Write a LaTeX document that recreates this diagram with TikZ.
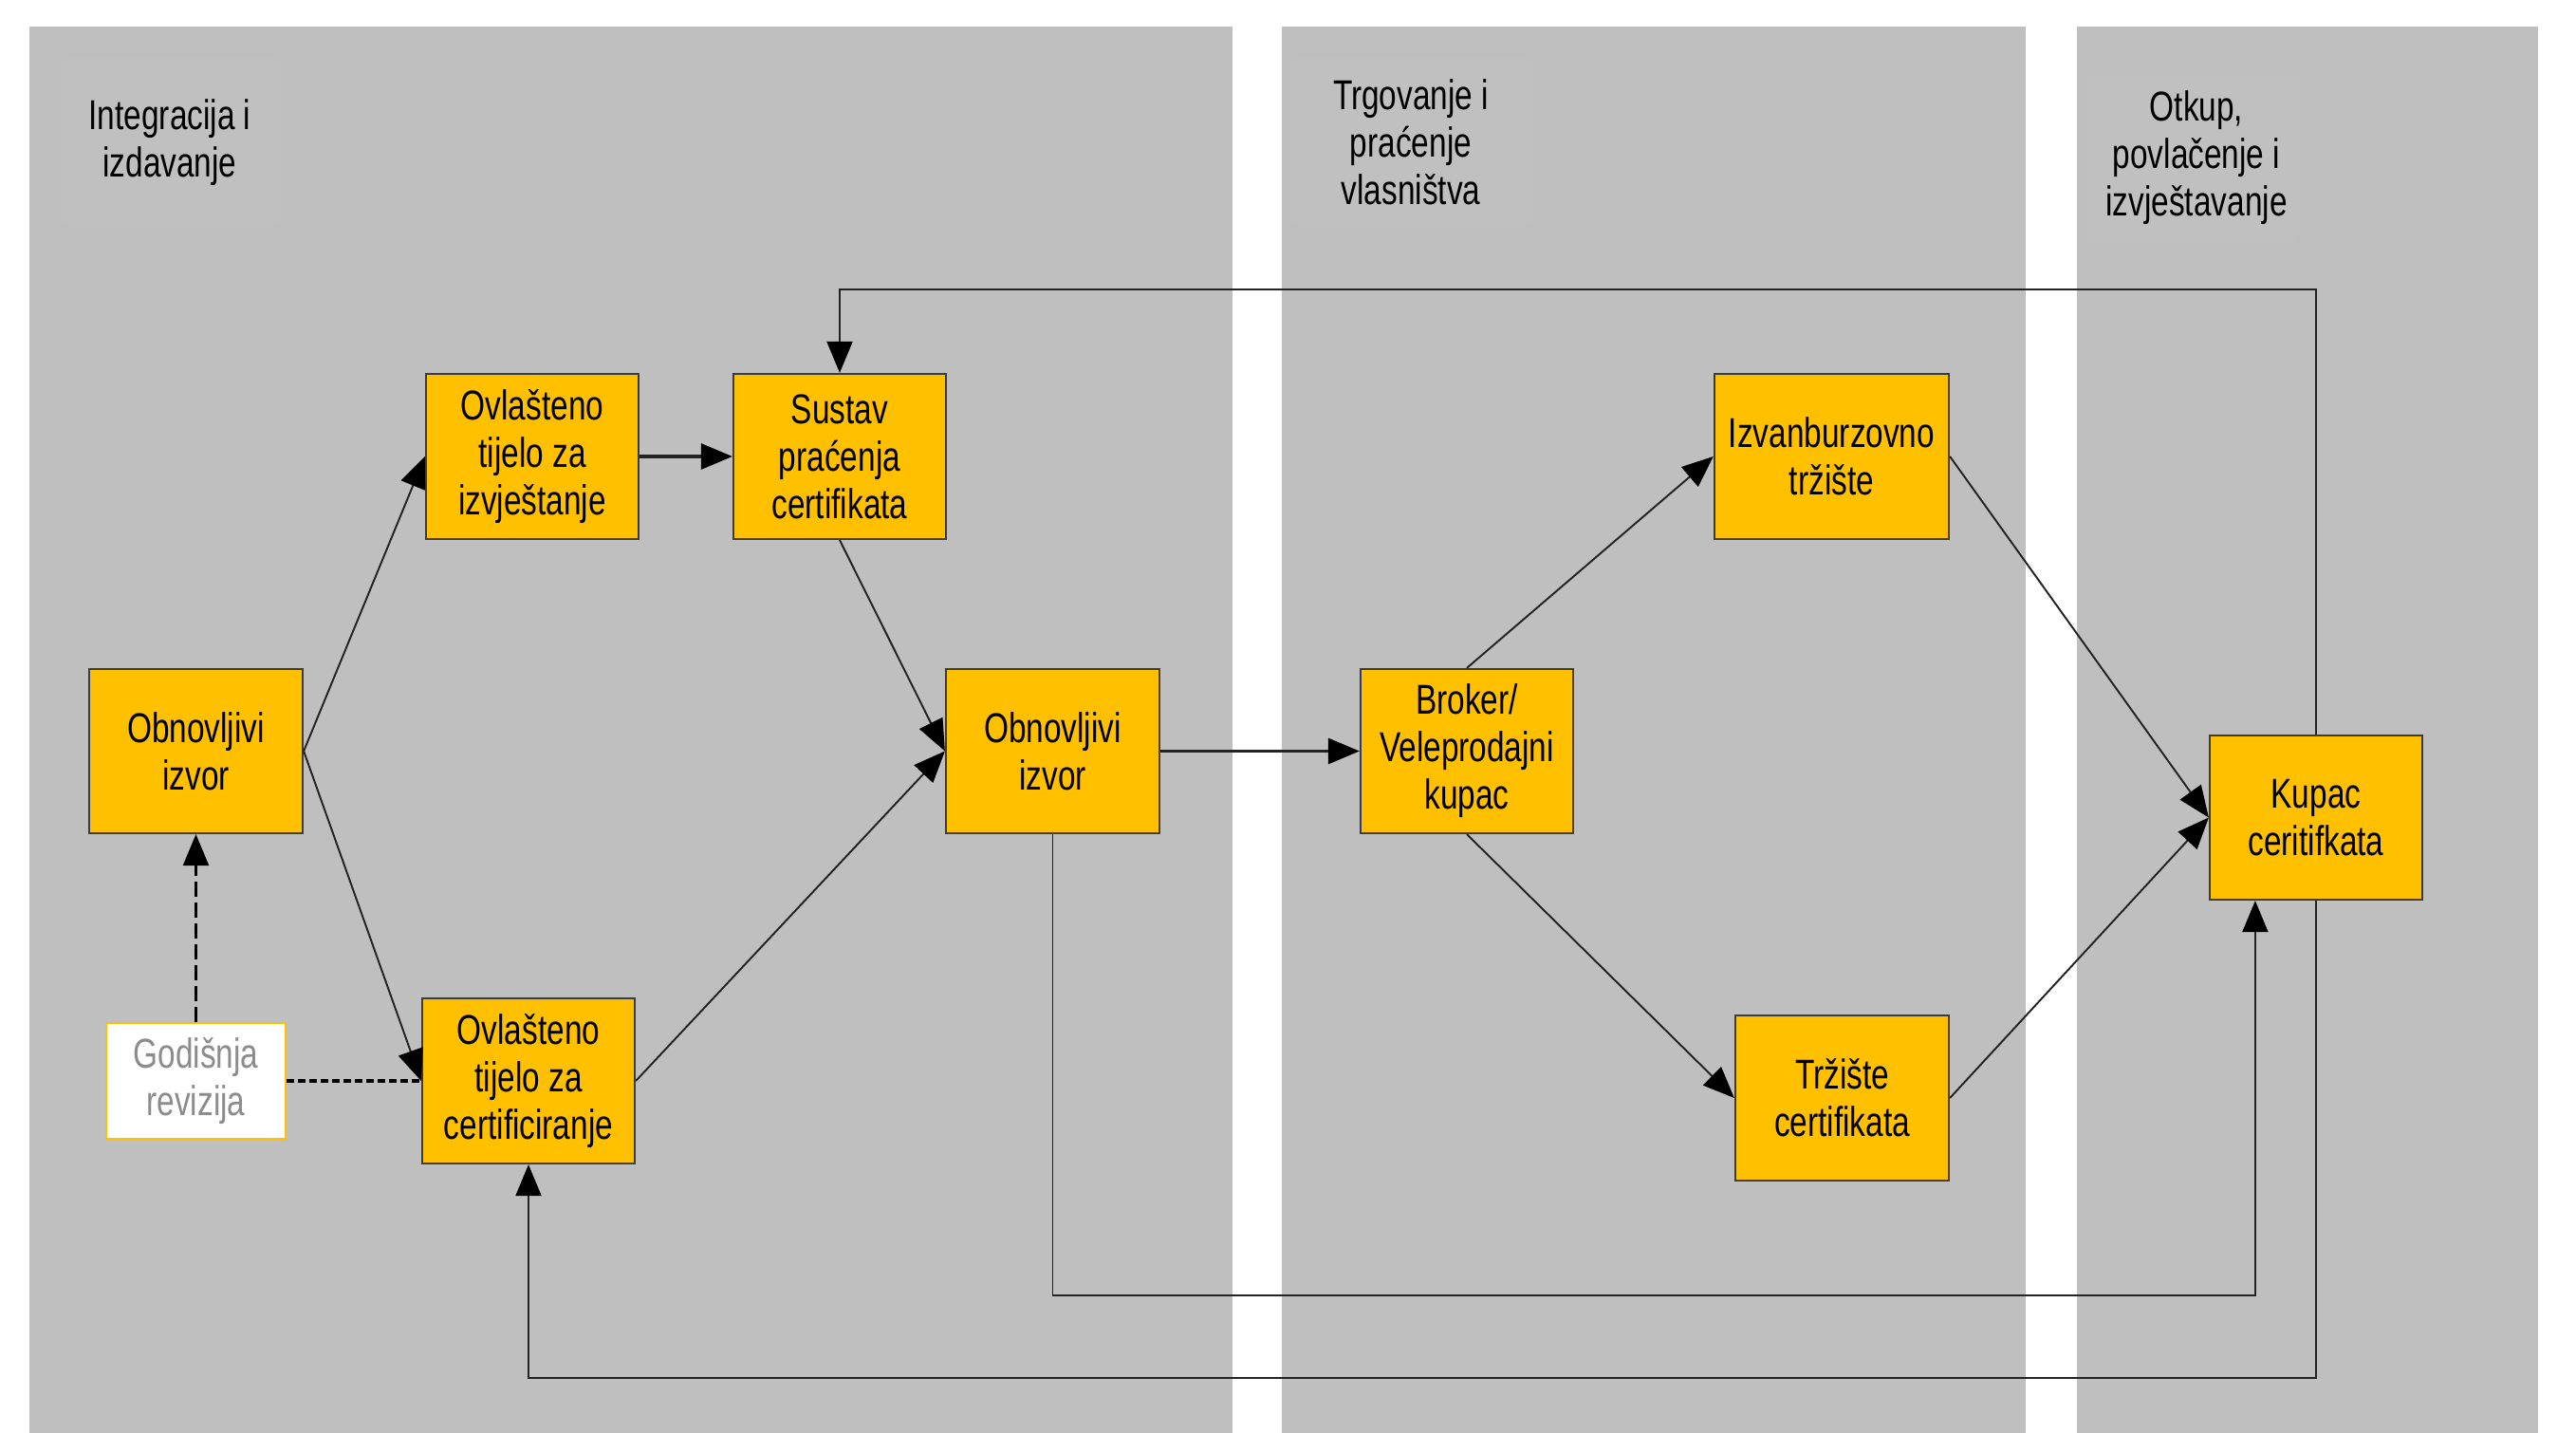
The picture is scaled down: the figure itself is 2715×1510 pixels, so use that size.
\documentclass[tikz,border=0pt]{standalone}
\usepackage{fontspec}
\setmainfont{Liberation Sans}[FakeStretch=0.76]
\usetikzlibrary{arrows.meta,calc}
\definecolor{panel}{RGB}{191,191,191}
\definecolor{lblbg}{RGB}{192,192,192}
\definecolor{boxfill}{RGB}{255,192,0}
\definecolor{boxline}{RGB}{60,60,60}
\definecolor{linec}{RGB}{35,35,35}
\definecolor{grtext}{RGB}{140,140,140}
\tikzset{
  txt/.style={font=\fontsize{12.5}{14.2}\selectfont, align=center},
  ybox/.style={txt, draw=boxline, line width=0.6pt, fill=boxfill, minimum width=2.24cm, minimum height=1.74cm, inner sep=0pt},
  wbox/.style={txt, draw=boxfill, line width=0.6pt, fill=white, text=grtext, minimum width=1.89cm, minimum height=1.22cm, inner sep=0pt},
  hdr/.style={txt, text=black},
  conn/.style={draw=linec, line width=0.55pt},
  tip/.style={-{Triangle[length=0.33cm,width=0.27cm,color=black]}},
  arr/.style={conn, tip},
  dashv/.style={draw=black, line width=0.65pt, dash pattern=on 0.16cm off 0.06cm},
  dashh/.style={draw=black, line width=1pt, dash pattern=on 0.075cm off 0.045cm},
}
\begin{document}
\begin{tikzpicture}[x=0.01cm, y=-0.01cm]
\useasboundingbox (0,0) rectangle (2715,1510);
\fill[white] (0,0) rectangle (2715,1510);
% panels
\fill[panel] (31,28) rectangle (1299,1510);
\fill[panel] (1351,28) rectangle (2135,1510);
\fill[panel] (2189,28) rectangle (2675,1510);
% header backgrounds
\fill[lblbg] (67,62) rectangle (293,235);
\fill[lblbg] (1363,62) rectangle (1614,235);
\fill[lblbg] (2202,80) rectangle (2419,254);
% headers
\node[hdr] (h1) at (179,150) {Integracija i\\izdavanje};
\node[hdr] (h2) at (1487,150) {Trgovanje i\\praćenje\\vlasništva};
\node[hdr] (h3) at (2315,166) {Otkup,\\povlačenje i\\izvještavanje};
% boxes
\node[ybox, minimum width=2.25cm, minimum height=1.73cm] (obn1) at (206.5,791.5) {Obnovljivi\\izvor};
\node[ybox] (oi) at (561,481) {Ovlašteno\\tijelo za\\izvještanje};
\node[ybox] (sus) at (885,481) {Sustav\\praćenja\\certifikata};
\node[ybox] (oc) at (557,1139) {Ovlašteno\\tijelo za\\certificiranje};
\node[ybox, minimum width=2.25cm, minimum height=1.73cm] (obn2) at (1109.5,791.5) {Obnovljivi\\izvor};
\node[ybox, minimum height=1.73cm] (brk) at (1546,791.5) {Broker/\\Veleprodajni\\kupac};
\node[ybox, minimum width=2.47cm] (izv) at (1930.5,481) {Izvanburzovno\\tržište};
\node[ybox, minimum width=2.25cm] (trz) at (1941.5,1157) {Tržište\\certifikata};
\node[ybox, minimum height=1.73cm] (kup) at (2441,861.5) {Kupac\\ceritifkata};
\node[wbox] (gr) at (206.5,1139) {Godišnja\\revizija};
% helper coordinates
\coordinate (top) at (0,305);
\coordinate (mid) at (0,1365);
\coordinate (bot) at (0,1452);
\coordinate (kin) at ($(kup.south west)+(49,0)$);
% connectors
\draw[arr] (obn1.east) -- (oi.west);
\draw[arr] (obn1.east) -- (oc.west);
\draw[arr, line width=0.9pt] (oi.east) -- (sus.west);
\draw[arr] (sus.south) -- (obn2.west);
\draw[arr] (oc.east) -- (obn2.west);
\draw[arr, line width=0.8pt] (obn2.east) -- (brk.west);
\draw[arr] (brk.north) -- (izv.west);
\draw[arr] (brk.south) -- (trz.west);
\draw[arr] (izv.east) -- (kup.west);
\draw[arr] (trz.east) -- (kup.west);
\draw[arr] (kup.north) |- (top -| sus.north) -- (sus.north);
\draw[arr] (kup.south) |- (bot -| oc.south) -- (oc.south);
\draw[arr] (obn2.south) |- (mid -| kin) -- (kin);
\draw[dashv, tip] (gr.north) -- (obn1.south);
\draw[dashh] (gr.east) -- (oc.west);
\end{tikzpicture}
\end{document}
